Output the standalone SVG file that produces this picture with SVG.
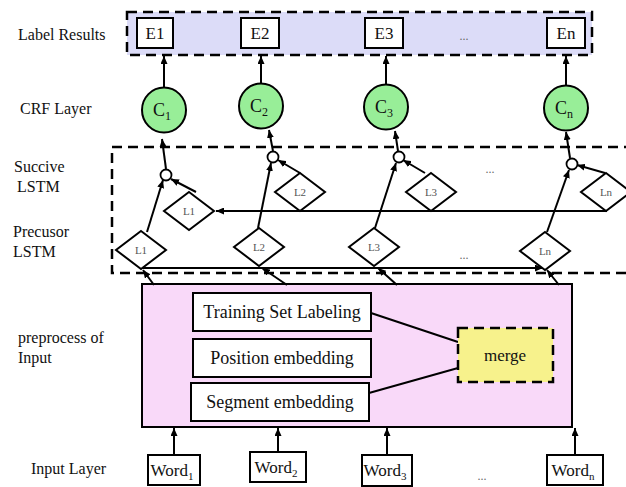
<svg xmlns="http://www.w3.org/2000/svg" width="626" height="487" viewBox="0 0 626 487">
<defs>
<marker id="ah" markerUnits="userSpaceOnUse" markerWidth="8" markerHeight="7" refX="8" refY="3.5" orient="auto">
<path d="M0,0 L8,3.5 L0,7 z" fill="#000"/>
</marker>
<style>
text{font-family:"Liberation Serif","Times New Roman",serif;fill:#111;}
.lbl{font-size:16px;}
.box{fill:#fff;stroke:#000;stroke-width:2;}
.dash{stroke:#000;stroke-width:2.5;stroke-dasharray:10,6;}
.circ{fill:#98ee98;stroke:#000;stroke-width:2;}
.dia{fill:#fff;stroke:#000;stroke-width:2;}
.dt{font-size:11px;fill:#555;text-anchor:middle;}
.sm{fill:#fff;stroke:#000;stroke-width:1.8;}
.ln{stroke:#000;stroke-width:2;fill:none;}
.ar{stroke:#000;stroke-width:2;fill:none;marker-end:url(#ah);}
.c{font-size:18px;text-anchor:middle;}
.e{font-size:17px;text-anchor:middle;}
.w{font-size:17px;text-anchor:middle;}
.dots{font-size:12px;fill:#666;text-anchor:middle;}
</style>
</defs>

<!-- layer labels -->
<g id="layer-labels">
<text class="lbl" x="18" y="40">Label Results</text>
<text class="lbl" x="20" y="114">CRF Layer</text>
<text class="lbl" x="14" y="172">Succive</text>
<text class="lbl" x="17" y="192">LSTM</text>
<text class="lbl" x="13" y="237">Precusor</text>
<text class="lbl" x="13" y="257">LSTM</text>
<text class="lbl" x="18" y="343">preprocess of</text>
<text class="lbl" x="18" y="363">Input</text>
<text class="lbl" x="31" y="474">Input Layer</text>
</g>

<!-- containers -->
<g id="label-results">
<rect x="127" y="12" width="465" height="43" fill="#dcdcf8" class="dash"/>
</g>
<g id="lstm-region">
<rect x="112" y="147" width="530" height="126" fill="none" class="dash"/>
</g>
<g id="preprocess">
<rect x="142" y="284" width="430" height="143" fill="#f9d9f9" stroke="#000" stroke-width="2"/>
</g>

<!-- connectors -->
<g id="connectors">
<!-- C to E -->
<line class="ar" x1="164" y1="87" x2="164" y2="56"/>
<line class="ar" x1="261" y1="83" x2="261" y2="56"/>
<line class="ar" x1="386" y1="84" x2="386" y2="56"/>
<line class="ar" x1="566" y1="85" x2="566" y2="56"/>
<!-- small circles to C -->
<line class="ar" x1="166" y1="169" x2="162" y2="139"/>
<line class="ar" x1="273" y1="151" x2="269" y2="130"/>
<line class="ar" x1="398" y1="151" x2="395" y2="131"/>
<line class="ar" x1="570" y1="158" x2="566" y2="132"/>
<!-- lower diamonds to small circles -->
<line class="ar" x1="147" y1="232" x2="163" y2="180"/>
<line class="ar" x1="258" y1="228" x2="271" y2="163"/>
<line class="ar" x1="375" y1="228" x2="396" y2="163"/>
<line class="ar" x1="547" y1="232" x2="569" y2="170"/>
<!-- upper diamonds to small circles -->
<line class="ar" x1="196" y1="192" x2="171" y2="179"/>
<line class="ar" x1="300" y1="173" x2="278" y2="160"/>
<line class="ar" x1="425" y1="173" x2="403" y2="160"/>
<line class="ar" x1="605" y1="173" x2="577" y2="165"/>
<!-- backward chain -->
<line class="ar" x1="607" y1="211" x2="216" y2="211"/>
<!-- forward chain -->
<line class="ar" x1="141" y1="268" x2="543" y2="268"/>
<!-- preprocess to lower diamonds -->
<line class="ar" x1="154" y1="285" x2="143" y2="270"/>
<line class="ar" x1="287" y1="285" x2="262" y2="268"/>
<line class="ar" x1="397" y1="285" x2="378" y2="268"/>
<line class="ar" x1="559" y1="285" x2="547" y2="270"/>
<!-- merge lines -->
<line class="ln" x1="371" y1="313" x2="458" y2="342"/>
<line class="ln" x1="369" y1="393" x2="458" y2="368"/>
<!-- words to preprocess -->
<line class="ar" x1="174" y1="455" x2="174" y2="428"/>
<line class="ar" x1="278" y1="452" x2="278" y2="428"/>
<line class="ar" x1="387" y1="455" x2="387" y2="428"/>
<line class="ar" x1="575" y1="455" x2="575" y2="428"/>
</g>

<!-- E nodes -->
<g id="E1"><rect class="box" x="137" y="18" width="36" height="30"/><text class="e" x="155" y="39">E1</text></g>
<g id="E2"><rect class="box" x="241" y="18" width="38" height="30"/><text class="e" x="260" y="39">E2</text></g>
<g id="E3"><rect class="box" x="365" y="18" width="38" height="30"/><text class="e" x="384" y="39">E3</text></g>
<g id="En"><rect class="box" x="547" y="18" width="38" height="30"/><text class="e" x="566" y="39">En</text></g>
<text class="dots" x="464" y="40">...</text>

<!-- C nodes -->
<g id="C1"><ellipse class="circ" cx="164" cy="110" rx="22" ry="22.5"/><text class="c" x="162" y="116">C<tspan font-size="12" dy="4">1</tspan></text></g>
<g id="C2"><ellipse class="circ" cx="261" cy="106" rx="22" ry="22.5"/><text class="c" x="259" y="112">C<tspan font-size="12" dy="4">2</tspan></text></g>
<g id="C3"><ellipse class="circ" cx="386" cy="107" rx="22" ry="22.5"/><text class="c" x="384" y="113">C<tspan font-size="12" dy="4">3</tspan></text></g>
<g id="Cn"><ellipse class="circ" cx="566" cy="108" rx="22" ry="22.5"/><text class="c" x="564" y="114">C<tspan font-size="12" dy="4">n</tspan></text></g>

<!-- small merge circles -->
<g id="o1"><circle class="sm" cx="166" cy="175" r="5.5"/></g>
<g id="o2"><circle class="sm" cx="273" cy="157" r="5.5"/></g>
<g id="o3"><circle class="sm" cx="399" cy="157" r="5.5"/></g>
<g id="o4"><circle class="sm" cx="572" cy="164" r="5.5"/></g>

<!-- upper diamonds (succive LSTM) -->
<g id="SL1"><polygon class="dia" points="189,192 214,211 189,230 164,211"/><text class="dt" x="189" y="215">L1</text></g>
<g id="SL2"><polygon class="dia" points="300,173 325,192 300,211 275,192"/><text class="dt" x="300" y="196">L2</text></g>
<g id="SL3"><polygon class="dia" points="431,173 456,192 431,211 406,192"/><text class="dt" x="431" y="196">L3</text></g>
<g id="SLn"><polygon class="dia" points="606,173 631,192 606,211 581,192"/><text class="dt" x="606" y="196">Ln</text></g>
<text class="dots" x="490" y="173">...</text>

<!-- lower diamonds (precursor LSTM) -->
<g id="PL1"><polygon class="dia" points="141,231 166,250 141,269 116,250"/><text class="dt" x="141" y="254">L1</text></g>
<g id="PL2"><polygon class="dia" points="259,228 284,247 259,266 234,247"/><text class="dt" x="259" y="251">L2</text></g>
<g id="PL3"><polygon class="dia" points="374,228 399,247 374,266 349,247"/><text class="dt" x="374" y="251">L3</text></g>
<g id="PLn"><polygon class="dia" points="545,232 570,251 545,270 520,251"/><text class="dt" x="545" y="255">Ln</text></g>
<text class="dots" x="464" y="259">...</text>

<!-- preprocess inner boxes -->
<g id="training"><rect class="box" x="193" y="293" width="178" height="38"/><text x="282" y="318" font-size="18" text-anchor="middle">Training Set Labeling</text></g>
<g id="position"><rect class="box" x="193" y="339" width="178" height="38"/><text x="282" y="364" font-size="18" text-anchor="middle">Position embedding</text></g>
<g id="segment"><rect class="box" x="191" y="383" width="178" height="38"/><text x="280" y="408" font-size="18" text-anchor="middle">Segment embedding</text></g>
<g id="merge"><rect x="458" y="328" width="95" height="54" fill="#f7f28c" class="dash"/><text x="505" y="361" font-size="17" text-anchor="middle">merge</text></g>

<!-- words -->
<g id="Word1"><rect class="box" x="148" y="455" width="52" height="30"/><text class="w" x="172" y="476">Word<tspan font-size="11" dy="4">1</tspan></text></g>
<g id="Word2"><rect class="box" x="250" y="452" width="56" height="30"/><text class="w" x="276" y="473">Word<tspan font-size="11" dy="4">2</tspan></text></g>
<g id="Word3"><rect class="box" x="362" y="455" width="50" height="31"/><text class="w" x="385" y="476">Word<tspan font-size="11" dy="4">3</tspan></text></g>
<g id="Wordn"><rect class="box" x="547" y="455" width="56" height="30"/><text class="w" x="573" y="476">Word<tspan font-size="11" dy="4">n</tspan></text></g>
<text class="dots" x="482" y="480">...</text>
</svg>
